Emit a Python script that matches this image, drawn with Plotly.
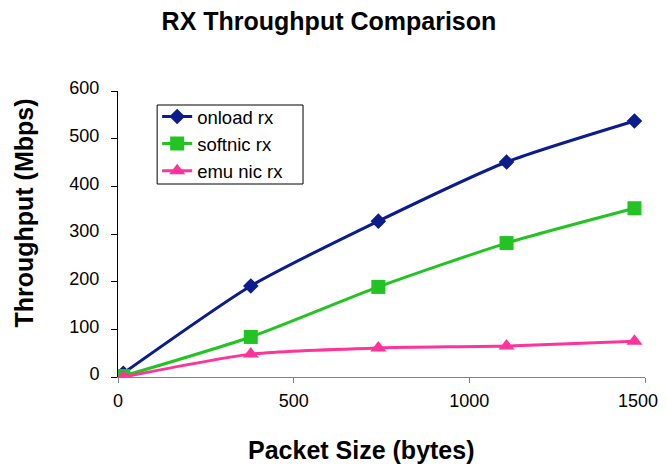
import plotly.graph_objects as go

packet_size = [15, 378, 741, 1106, 1470]
onload_rx = [8, 191, 327, 451, 537]
softnic_rx = [2, 84, 189, 281, 354]
emu_nic_rx = [0, 48, 61, 65, 75]

x_ticks = [0, 500, 1000, 1500]
x_tick_text = ["0", "500", "1000", "1500"]
y_ticks = [0, 100, 200, 300, 400, 500, 600]

series = [
    ("onload rx", onload_rx, "#0B1C8C", "diamond", 12),
    ("softnic rx", softnic_rx, "#22C322", "square", 14),
    ("emu nic rx", emu_nic_rx, "#FF3399", "triangle-up", 14),
]

fig = go.Figure()
for name, ys, color, sym, size in series:
    fig.add_trace(go.Scatter(
        x=packet_size, y=ys, name=name, mode="lines+markers",
        line=dict(color=color, width=3, shape="spline", smoothing=0.6),
        marker=dict(symbol=sym, size=size, color=color),
    ))

ff = "Liberation Sans, Arial, sans-serif"
# the last x tick label is drawn as an annotation nudged left so it stays inside the window
annotations = [
    dict(text="<b>Packet Size (bytes)</b>", xref="paper", yref="paper",
         x=0.4616, y=-0.2552, xanchor="center", yanchor="middle",
         showarrow=False, font=dict(size=25, family=ff)),
    dict(text="<b>Throughput (Mbps)</b>", xref="paper", yref="paper",
         x=-0.1782, y=0.5717, xanchor="center", yanchor="middle", textangle=-90,
         showarrow=False, font=dict(size=25, family=ff)),
    dict(text=x_tick_text[-1], xref="x", yref="paper", x=x_ticks[-1], y=0,
         xanchor="center", yanchor="middle", xshift=-7, yshift=-24,
         showarrow=False, font=dict(size=18, family=ff)),
]

fig.update_layout(
    width=659, height=458,
    margin=dict(l=109.5, r=22, t=83, b=89, pad=0),
    paper_bgcolor="white", plot_bgcolor="white",
    font=dict(family=ff, size=18, color="black"),
    title=dict(text="<b>RX Throughput Comparison</b>", x=0.487, xanchor="center",
               xref="container", yref="container",
               y=1 - 13 / 458, yanchor="middle", font=dict(size=25, family=ff)),
    legend=dict(x=0.0743, y=0.9755, xanchor="left", yanchor="top",
                borderwidth=0, bgcolor="rgba(0,0,0,0)",
                font=dict(size=18.5), tracegroupgap=0, itemwidth=30),
    showlegend=True,
    shapes=[
        dict(type="rect", xref="paper", yref="paper",
             x0=0.0743, x1=0.3511, y0=0.6748, y1=0.951,
             line=dict(color="black", width=1), fillcolor="white", layer="above"),
    ],
    annotations=annotations,
)
fig.update_xaxes(
    range=[0, 1500], tickvals=x_ticks, ticktext=x_tick_text[:-1] + [""],
    automargin=False,
    showgrid=False, zeroline=False, showline=True, linecolor="#808080", linewidth=1,
    ticks="outside", ticklen=5, tickcolor="#808080", ticklabelstandoff=2,
    tickfont=dict(size=18),
)
fig.update_yaxes(
    range=[0, 600], tickvals=y_ticks, automargin=False,
    showgrid=False, zeroline=False, showline=True, linecolor="black", linewidth=1,
    ticks="outside", ticklen=6, tickcolor="black", ticklabelstandoff=8,
    ticklabelshift=-3, tickfont=dict(size=18),
)
fig.write_html("out.html")
